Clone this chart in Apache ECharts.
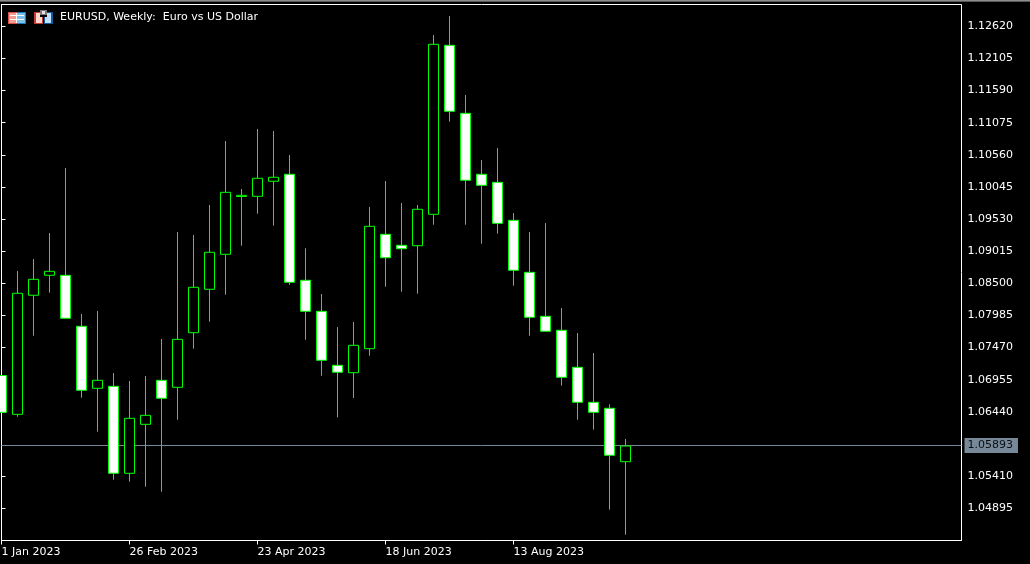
<!DOCTYPE html>
<html>
<head>
<meta charset="utf-8">
<style>html,body{margin:0;padding:0;background:#000;}#c{width:1030px;height:564px;}</style>
<script src="https://cdn.jsdelivr.net/npm/echarts@6/dist/echarts.min.js"></script>
</head>
<body>
<div id="c"></div>
<script>
// Weekly bars from 1 Jan 2023, one every 7 days
const weekStarts = ["1 Jan 2023","8 Jan 2023","15 Jan 2023","22 Jan 2023","29 Jan 2023","5 Feb 2023","12 Feb 2023","19 Feb 2023","26 Feb 2023","5 Mar 2023","12 Mar 2023","19 Mar 2023","26 Mar 2023","2 Apr 2023","9 Apr 2023","16 Apr 2023","23 Apr 2023","30 Apr 2023","7 May 2023","14 May 2023","21 May 2023","28 May 2023","4 Jun 2023","11 Jun 2023","18 Jun 2023","25 Jun 2023","2 Jul 2023","9 Jul 2023","16 Jul 2023","23 Jul 2023","30 Jul 2023","6 Aug 2023","13 Aug 2023","20 Aug 2023","27 Aug 2023","3 Sep 2023","10 Sep 2023","17 Sep 2023","24 Sep 2023","1 Oct 2023"];
const opens  = [1.07023,1.06401,1.08309,1.08629,1.08629,1.07812,1.06818,1.06850,1.05456,1.06241,1.06946,1.06834,1.07709,1.08405,1.08966,1.09892,1.09895,1.10136,1.10248,1.08549,1.08052,1.07187,1.07068,1.07453,1.09286,1.09110,1.09103,1.09607,1.12315,1.11225,1.10248,1.10119,1.09510,1.08677,1.07972,1.07748,1.07155,1.06594,1.06498,1.05642];
const closes = [1.06433,1.08341,1.08565,1.08693,1.07940,1.06786,1.06946,1.05456,1.06337,1.06385,1.06658,1.07603,1.08437,1.08998,1.09959,1.09911,1.10184,1.10200,1.08517,1.08052,1.07267,1.07075,1.07507,1.09414,1.08911,1.09055,1.09687,1.12331,1.11257,1.10152,1.10071,1.09462,1.08709,1.07956,1.07732,1.06994,1.06594,1.06433,1.05744,1.05893];
const lows   = [1.06433,1.06363,1.07661,1.08350,1.07937,1.06667,1.06123,1.05353,1.05321,1.05241,1.05161,1.06315,1.07453,1.07885,1.08318,1.09103,1.09616,1.09424,1.08474,1.07597,1.07020,1.06353,1.06663,1.07341,1.08446,1.08366,1.08334,1.09440,1.11091,1.09440,1.09135,1.09296,1.08462,1.07661,1.07729,1.06860,1.06315,1.06155,1.04873,1.04472];
const highs  = [1.07023,1.08698,1.08890,1.09307,1.10349,1.08009,1.08057,1.07063,1.06935,1.07015,1.07608,1.09323,1.09275,1.09756,1.10781,1.10012,1.10974,1.10942,1.10557,1.09062,1.08329,1.07800,1.07881,1.09724,1.10140,1.09788,1.09756,1.12480,1.12785,1.11519,1.10477,1.10669,1.09627,1.09323,1.09467,1.08105,1.07704,1.07384,1.06562,1.06006];
const priceTicks = [1.12620,1.12105,1.11590,1.11075,1.10560,1.10045,1.09530,1.09015,1.08500,1.07985,1.07470,1.06955,1.06440,1.05410,1.04895];
const dateTickIndex = [0,8,16,24,32];
const currentPrice = 1.05893;
const currentLineLevel = 1.059015; // where the price line sits on the picture's own scale
const titleText = "EURUSD, Weekly:  Euro vs US Dollar";

const font = "'DejaVu Sans', sans-serif";
const candles = weekStarts.map((d,i)=>[i,opens[i],closes[i],lows[i],highs[i]]);

function box(x,y,w,h,fill){return {type:'rect',silent:true,shape:{x,y,width:w,height:h},style:{fill}};}
const decorations = [
  // window strip along the top
  box(0,0,1030,1,'#8c8c8c'), box(0,1,1030,1,'#5a5a5a'),
  // table icon
  box(8,12,9,12,'#f59a8f'), box(17,12,9,12,'#7cc0ea'),
  box(8,12,1,12,'#d8504a'), box(8,23,9,1,'#d8504a'), box(8,12,9,1,'#d8504a'),
  box(25,12,1,12,'#1f7ab5'), box(17,23,9,1,'#1f7ab5'), box(17,12,9,1,'#1f7ab5'),
  box(10,15,14,1,'#fff'), box(10,19,14,1,'#fff'), box(16,13,1,10,'#fff'),
  // second icon
  box(34,12,9,12,'#c43a35'), box(36,13,6,10,'#ffd5cc'),
  box(44,12,9,12,'#14599b'), box(45,13,6,10,'#bfe3ff'),
  box(40,12,7,5,'#000'),
  box(40,10,7,5,'#7a7a7a'), box(42,11,3,3,'#e4e4e4')
];

const chart = echarts.init(document.getElementById('c'),null,{renderer:'canvas'});
chart.setOption({
  animation:false,
  backgroundColor:'#000',
  grid:{show:true,left:1.5,top:4.5,width:960,height:536,outerBoundsMode:'none',borderColor:'#fff',borderWidth:1,backgroundColor:'#000'},
  xAxis:{type:'value',min:0,max:60,containShape:false,splitLine:{show:false},
    axisLine:{show:true,lineStyle:{color:'#fff',width:1}},
    axisTick:{show:true,customValues:dateTickIndex,length:4,inside:false,lineStyle:{color:'#fff'}},
    axisLabel:{show:true,customValues:dateTickIndex,color:'#fff',fontFamily:font,fontSize:11,align:'left',margin:6,
      showMinLabel:true,showMaxLabel:true,hideOverlap:false,formatter:v=>weekStarts[v]}},
  yAxis:{type:'value',position:'right',min:1.04379,max:1.12969,scale:true,splitLine:{show:false},
    axisLine:{show:true,lineStyle:{color:'#fff',width:1}},
    axisTick:{show:true,customValues:priceTicks,length:4,lineStyle:{color:'#fff'}},
    axisLabel:{show:true,customValues:priceTicks,color:'#fff',fontFamily:font,fontSize:11,margin:6,padding:[2,0,0,0],hideOverlap:false,
      formatter:v=>v.toFixed(5)}},
  title:{text:titleText,left:60,top:12,padding:0,textStyle:{color:'#fff',fontFamily:font,fontSize:11,fontWeight:'normal'}},
  graphic:{elements:decorations},
  series:[
    {type:'line',z:1,silent:true,symbol:'none',data:[[0,currentLineLevel],[60,currentLineLevel]],lineStyle:{color:'#778899',width:1},
      endLabel:{show:true,distance:3,formatter:()=>currentPrice.toFixed(5),color:'#0b0f14',backgroundColor:'#778899',
        fontFamily:font,fontSize:11,padding:[2,5,2,3]}},
    {type:'candlestick',z:2,silent:true,barWidth:10,clip:true,data:candles,encode:{x:0,y:[1,2,3,4]},
      itemStyle:{color:'#000',color0:'#fff',borderColor:'#00ff00',borderColor0:'#00ff00',borderWidth:1}}
  ]
});
</script>
</body>
</html>
